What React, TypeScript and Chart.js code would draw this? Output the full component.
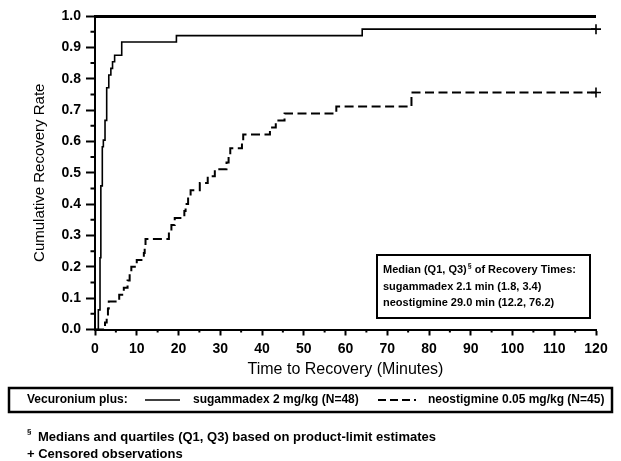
import React, { useEffect, useRef } from 'react';
import { Chart, registerables } from 'chart.js';

Chart.register(...registerables);

// Kaplan-Meier style step data
const sugammadexTimes = [0, 0.8, 1.2, 1.4, 1.75, 2.0, 2.4, 2.8, 3.3, 3.8, 4.2, 4.7, 6.4, 19.5, 64, 120];
const sugammadexRates = [0, 0.0625, 0.229, 0.458, 0.583, 0.604, 0.667, 0.771, 0.812, 0.833, 0.854, 0.875, 0.917, 0.9375, 0.958, 0.958];

const neostigmineTimes = [
  0, 2.4, 2.8, 3.1, 3.3, 5.8, 6.9, 7.8, 8.3, 8.7, 10.0, 11.7, 11.9, 12.1, 17.7, 18.3, 19.1, 21.4,
  21.7, 22.3, 22.9, 25.1, 27.0, 28.7, 31.5, 32.0, 32.4, 35.2, 35.5, 41.9, 43.3, 45.4, 57.8, 75.8, 120,
];
const neostigmineRates = [
  0, 0.022, 0.044, 0.067, 0.089, 0.111, 0.133, 0.156, 0.178, 0.2, 0.222, 0.244, 0.267, 0.289, 0.311,
  0.333, 0.356, 0.378, 0.4, 0.422, 0.444, 0.467, 0.489, 0.511, 0.533, 0.556, 0.578, 0.6, 0.622, 0.644,
  0.667, 0.689, 0.711, 0.756, 0.756,
];

const xMinorTicks = [5, 15, 25, 35, 45, 55, 65, 75, 85, 95, 105, 115];
const yMinorTicks = [0.05, 0.15, 0.25, 0.35, 0.45, 0.55, 0.65, 0.75, 0.85, 0.95];

const legendPrefix = 'Vecuronium plus:';
const seriesNames = ['sugammadex 2 mg/kg (N=48)', 'neostigmine 0.05 mg/kg (N=45)'];
const medianTitle = ['Median (Q1, Q3)', '§', ' of Recovery Times:'];
const medianLines = ['sugammadex 2.1 min (1.8, 3.4)', 'neostigmine 29.0 min (12.2, 76.2)'];
const footnotes = ['Medians and quartiles (Q1, Q3) based on product-limit estimates', '+ Censored observations'];

const FONT = '"Liberation Sans", Arial, sans-serif';

const toPoints = (xs: number[], ys: number[]) => xs.map((x, i) => ({ x, y: ys[i] }));
const censorRadius = (n: number) => Array.from({ length: n }, (_, i) => (i === n - 1 ? 5 : 0));

const decorations = {
  id: 'decorations',
  afterDraw(chart: Chart) {
    const { ctx, scales } = chart;
    const x = scales.x;
    const y = scales.y;
    ctx.save();
    ctx.strokeStyle = '#000';
    ctx.fillStyle = '#000';

    // minor ticks
    ctx.lineWidth = 2;
    ctx.beginPath();
    xMinorTicks.forEach((v) => {
      const px = x.getPixelForValue(v);
      ctx.moveTo(px, x.top);
      ctx.lineTo(px, x.top + 3);
    });
    yMinorTicks.forEach((v) => {
      const py = y.getPixelForValue(v);
      ctx.moveTo(y.right, py);
      ctx.lineTo(y.right - 4.5, py);
    });
    ctx.stroke();

    // median box
    ctx.lineWidth = 2;
    ctx.strokeRect(377, 255, 213, 63);
    ctx.textBaseline = 'middle';
    ctx.textAlign = 'left';
    ctx.font = `bold 11px ${FONT}`;
    let tx = 383;
    ctx.fillText(medianTitle[0], tx, 270);
    tx += ctx.measureText(medianTitle[0]).width + 1;
    ctx.font = `bold 7px ${FONT}`;
    ctx.fillText(medianTitle[1], tx, 266);
    tx += ctx.measureText(medianTitle[1]).width;
    ctx.font = `bold 11px ${FONT}`;
    ctx.fillText(medianTitle[2], tx, 270);
    ctx.fillText(medianLines[0], 383, 287);
    ctx.fillText(medianLines[1], 383, 303);

    // legend box
    ctx.lineWidth = 2.5;
    ctx.strokeRect(9, 388, 603, 24);
    ctx.font = `bold 12px ${FONT}`;
    ctx.fillText(legendPrefix, 27, 400);
    ctx.lineWidth = 1.5;
    ctx.beginPath();
    ctx.moveTo(145, 400);
    ctx.lineTo(180, 400);
    ctx.stroke();
    ctx.fillText(seriesNames[0], 193, 400);
    ctx.lineWidth = 2;
    ctx.setLineDash([8, 4]);
    ctx.beginPath();
    ctx.moveTo(378, 400);
    ctx.lineTo(416, 400);
    ctx.stroke();
    ctx.setLineDash([]);
    ctx.fillText(seriesNames[1], 428, 400);

    // footnotes
    ctx.font = `bold 8px ${FONT}`;
    ctx.fillText('§', 27, 432);
    ctx.font = `bold 13px ${FONT}`;
    ctx.fillText(footnotes[0], 38, 437);
    ctx.fillText(footnotes[1], 27, 454);
    ctx.restore();
  },
};

const App: React.FC = () => {
  const canvasRef = useRef<HTMLCanvasElement>(null);

  useEffect(() => {
    document.body.style.margin = '0';
    if (!canvasRef.current) return;

    const chart = new Chart(canvasRef.current, {
      type: 'line',
      data: {
        datasets: [
          {
            label: seriesNames[0],
            data: toPoints(sugammadexTimes, sugammadexRates),
            stepped: true,
            borderColor: '#000',
            borderWidth: 1.6,
            pointRadius: censorRadius(sugammadexTimes.length),
            pointStyle: 'cross',
            pointBorderColor: '#000',
            pointBorderWidth: 1.6,
            clip: false,
          },
          {
            label: seriesNames[1],
            data: toPoints(neostigmineTimes, neostigmineRates),
            stepped: true,
            borderColor: '#000',
            borderWidth: 2,
            borderDash: [9, 4.5],
            pointRadius: censorRadius(neostigmineTimes.length),
            pointStyle: 'cross',
            pointBorderColor: '#000',
            pointBorderWidth: 1.6,
            clip: false,
          },
        ],
      },
      options: {
        animation: false,
        responsive: false,
        devicePixelRatio: 1,
        layout: { padding: { left: 31, right: 25, top: 16, bottom: 81.5 } },
        plugins: {
          legend: { display: false },
          tooltip: { enabled: false },
        },
        scales: {
          x: {
            type: 'linear',
            min: 0,
            max: 120,
            afterFit: (scale: any) => {
              scale.height = 50;
            },
            border: { display: true, color: '#000', width: 2 },
            grid: {
              drawOnChartArea: false,
              tickLength: 6,
              tickColor: '#000',
              tickWidth: 2,
            },
            ticks: {
              stepSize: 10,
              color: '#000',
              padding: 5,
              maxRotation: 0,
              font: { family: FONT, size: 14, weight: 'bold' },
            },
            title: {
              display: true,
              text: 'Time to Recovery (Minutes)',
              color: '#000',
              padding: 0,
              font: { family: FONT, size: 16 },
            },
          },
          y: {
            type: 'linear',
            min: 0,
            max: 1,
            afterFit: (scale: any) => {
              scale.width = 64;
            },
            border: { display: true, color: '#000', width: 2 },
            grid: {
              drawOnChartArea: true,
              color: (c: any) => (c.tick && c.tick.value === 1 ? '#000' : 'rgba(0,0,0,0)'),
              lineWidth: (c: any) => (c.tick && c.tick.value === 1 ? 3 : 1),
              tickLength: 9,
              tickColor: '#000',
              tickWidth: 2,
            },
            ticks: {
              stepSize: 0.1,
              color: '#000',
              padding: 5,
              font: { family: FONT, size: 14, weight: 'bold' },
              callback: (v: any) => Number(v).toFixed(1),
            },
            title: {
              display: true,
              text: 'Cumulative Recovery Rate',
              color: '#000',
              padding: 0,
              font: { family: FONT, size: 15 },
            },
          },
        },
      },
      plugins: [decorations],
    });

    return () => {
      chart.destroy();
    };
  }, []);

  return (
    <div style={{ width: 621, height: 461, background: '#fff' }}>
      <canvas ref={canvasRef} width={621} height={461} />
    </div>
  );
};

export default App;
